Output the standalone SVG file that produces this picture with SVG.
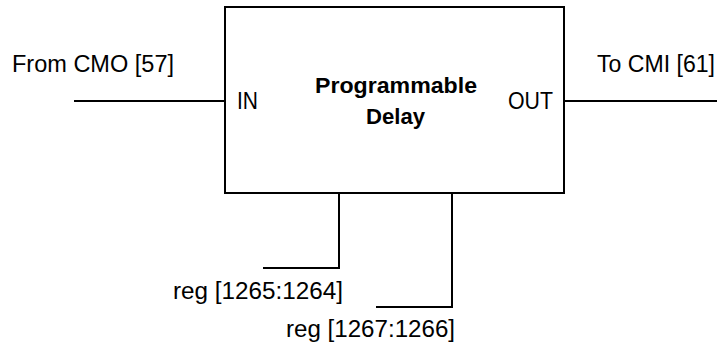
<svg xmlns="http://www.w3.org/2000/svg" width="721" height="344" viewBox="0 0 721 344">
<style>
.ln{fill:none;stroke:#000;stroke-width:2}
.t{font-family:"Liberation Sans",Arial,sans-serif;font-size:23px;fill:#000}
.b{font-family:"Liberation Sans",Arial,sans-serif;font-size:22px;font-weight:bold;fill:#000}
</style>
<rect width="721" height="344" fill="#fff"/>
<g id="delay">
<rect class="ln" x="225" y="7" width="339" height="186"/>
<text class="b" x="396" y="93" text-anchor="middle" textLength="162" lengthAdjust="spacingAndGlyphs">Programmable</text>
<text class="b" x="395.5" y="124" text-anchor="middle" textLength="59" lengthAdjust="spacingAndGlyphs">Delay</text>
<text class="t" x="237" y="109" textLength="21" lengthAdjust="spacingAndGlyphs">IN</text>
<text class="t" x="508" y="109" textLength="45" lengthAdjust="spacingAndGlyphs">OUT</text>
</g>
<g id="input-label">
<text class="t" x="12" y="72" textLength="162" lengthAdjust="spacingAndGlyphs">From CMO [57]</text>
</g>
<g id="output-label">
<text class="t" x="597" y="72" textLength="118" lengthAdjust="spacingAndGlyphs">To CMI [61]</text>
</g>
<g id="reg1">
<text class="t" x="173" y="299" textLength="170" lengthAdjust="spacingAndGlyphs">reg [1265:1264]</text>
</g>
<g id="reg2">
<text class="t" x="286" y="337" textLength="169" lengthAdjust="spacingAndGlyphs">reg [1267:1266]</text>
</g>
<g id="connectors">
<path class="ln" d="M74 101H225"/>
<path class="ln" d="M564 101H717"/>
<path class="ln" d="M339 193V268H263"/>
<path class="ln" d="M452 193V307H376"/>
</g>
</svg>
